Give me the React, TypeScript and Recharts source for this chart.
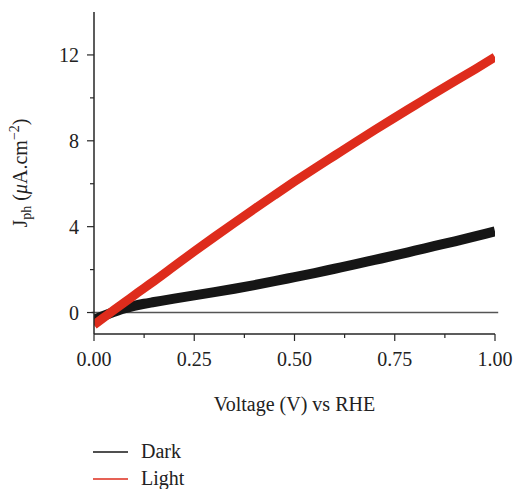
import React from "react"
import {
  LineChart,
  Line,
  XAxis,
  YAxis,
  ReferenceLine,
} from "recharts"

// voltage (V vs RHE)
const voltage = [
  0, 0.025, 0.05, 0.075, 0.1, 0.125, 0.15, 0.2, 0.25, 0.3, 0.35, 0.4, 0.45,
  0.5, 0.55, 0.6, 0.65, 0.7, 0.75, 0.8, 0.85, 0.9, 0.95, 1.0,
]
// photocurrent density, µA/cm²
const dark = [
  -0.33, -0.15, 0.03, 0.19, 0.31, 0.41, 0.49, 0.65, 0.8, 0.95, 1.11, 1.28, 1.46,
  1.65, 1.84, 2.04, 2.24, 2.45, 2.66, 2.88, 3.1, 3.32, 3.55, 3.78,
]
const light = [
  -0.58, -0.23, 0.12, 0.46, 0.8, 1.14, 1.47, 2.16, 2.85, 3.52, 4.18, 4.83, 5.47,
  6.1, 6.71, 7.31, 7.91, 8.5, 9.08, 9.65, 10.22, 10.78, 11.33, 11.9,
]

const seriesNames = ["Dark", "Light"]
const xMajorTicks = [0, 0.25, 0.5, 0.75, 1]
const xMinorTicks = [0.125, 0.375, 0.625, 0.875]
const yMajorTicks = [0, 4, 8, 12]
const yMinorTicks = [2, 6, 10]

const data = voltage.map((v, i) => ({ v, Dark: dark[i], Light: light[i] }))

const colors: Record<string, string> = {
  Dark: "#161616",
  Light: "#de2c1c",
}
const FONT = "'Liberation Serif', 'Times New Roman', serif"
const AXIS = "#262626"

function XTick(props: any) {
  const { x, y, payload } = props
  const major = xMajorTicks.includes(payload.value)
  return (
    <g>
      <line x1={x} y1={y} x2={x} y2={y + (major ? 7 : 4)} stroke={AXIS} strokeWidth={1.2} />
      {major && (
        <text x={x} y={y + 32} textAnchor="middle" fontFamily={FONT} fontSize={20} fill="#222">
          {payload.value.toFixed(2)}
        </text>
      )}
    </g>
  )
}

function YTick(props: any) {
  const { x, y, payload } = props
  const major = yMajorTicks.includes(payload.value)
  return (
    <g>
      <line x1={x} y1={y} x2={x - (major ? 7 : 4)} y2={y} stroke={AXIS} strokeWidth={1.2} />
      {major && (
        <text x={x - 15} y={y + 7} textAnchor="end" fontFamily={FONT} fontSize={20} fill="#222">
          {payload.value}
        </text>
      )}
    </g>
  )
}

function XTitle(props: any) {
  const { x, width, y } = props.viewBox
  return (
    <text x={x + width / 2} y={y + 77} textAnchor="middle" fontFamily={FONT} fontSize={20} fill="#222">
      Voltage (V) vs RHE
    </text>
  )
}

function YTitle(props: any) {
  const { y, height } = props.viewBox
  const cx = 27
  const cy = y + height / 2
  return (
    <text
      x={cx}
      y={cy}
      textAnchor="middle"
      transform={`rotate(-90, ${cx}, ${cy})`}
      fontFamily={FONT}
      fontSize={20}
      fill="#222"
    >
      <tspan>J</tspan>
      <tspan fontSize={14} dy={4}>ph</tspan>
      <tspan dy={-4}> (</tspan>
      <tspan fontStyle="italic">μ</tspan>
      <tspan>A.cm</tspan>
      <tspan fontSize={14} dy={-8}>−2</tspan>
      <tspan dy={8}>)</tspan>
    </text>
  )
}

function LegendOverlay() {
  return (
    <svg
      width={513}
      height={489}
      style={{ position: "absolute", left: 0, top: 0, pointerEvents: "none" }}
    >
      {seriesNames.map((name, i) => (
        <g key={name}>
          <line
            x1={93}
            x2={128}
            y1={452 + i * 27}
            y2={452 + i * 27}
            stroke={colors[name]}
            strokeWidth={1.5}
          />
          <text x={141} y={458 + i * 27} fontFamily={FONT} fontSize={20} fill="#222">
            {name}
          </text>
        </g>
      ))}
    </svg>
  )
}

export default function App() {
  return (
    <div style={{ position: "absolute", left: 0, top: 0, width: 513, height: 489, background: "#fff" }}>
      <LineChart
        width={513}
        height={489}
        data={data}
        margin={{ top: 12, right: 18, bottom: 0, left: 0 }}
      >
        <XAxis
          dataKey="v"
          type="number"
          domain={[0, 1]}
          allowDataOverflow
          ticks={[...xMajorTicks, ...xMinorTicks].sort((a, b) => a - b)}
          interval={0}
          tick={<XTick />}
          tickLine={false}
          tickSize={0}
          tickMargin={0}
          height={155}
          axisLine={{ stroke: AXIS, strokeWidth: 1.5 }}
          label={{ content: (p: any) => <XTitle {...p} /> }}
        />
        <XAxis
          xAxisId="top"
          orientation="top"
          type="number"
          domain={[0, 1]}
          height={0}
          tick={false}
          tickLine={false}
          axisLine={{ stroke: AXIS, strokeWidth: 1.5 }}
        />
        <YAxis
          type="number"
          domain={[-1, 14]}
          allowDataOverflow
          ticks={[...yMajorTicks, ...yMinorTicks].sort((a, b) => a - b)}
          interval={0}
          tick={<YTick />}
          tickLine={false}
          tickSize={0}
          tickMargin={0}
          width={94}
          axisLine={{ stroke: AXIS, strokeWidth: 1.5 }}
          label={{ content: (p: any) => <YTitle {...p} /> }}
        />
        <YAxis
          yAxisId="right"
          orientation="right"
          type="number"
          domain={[-1, 14]}
          width={0}
          tick={false}
          tickLine={false}
          axisLine={{ stroke: AXIS, strokeWidth: 1.5 }}
        />
        <ReferenceLine
          segment={[
            { x: -0.006, y: 0 },
            { x: 1.008, y: 0 },
          ]}
          ifOverflow="visible"
          stroke="#555"
          strokeWidth={1.5}
        />
        {seriesNames.map((name) => (
          <Line
            key={name}
            dataKey={name}
            type="monotone"
            stroke={colors[name]}
            strokeWidth={name === "Dark" ? 10 : 9}
            dot={false}
            isAnimationActive={false}
          />
        ))}
      </LineChart>
      <LegendOverlay />
    </div>
  )
}
